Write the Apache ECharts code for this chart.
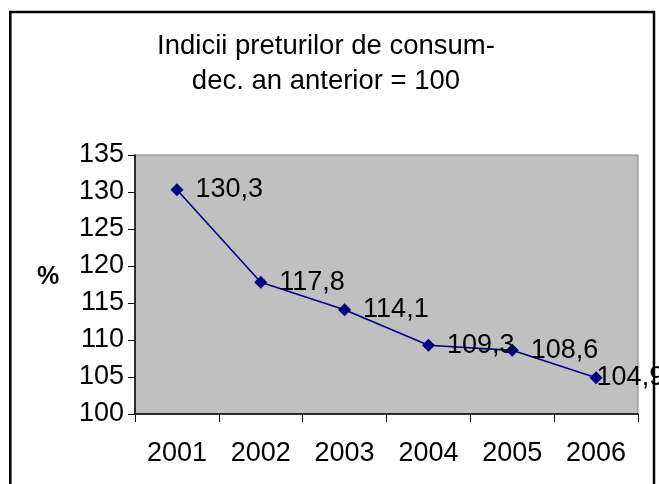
<!DOCTYPE html>
<html>
<head>
<meta charset="utf-8">
<script src="https://cdn.jsdelivr.net/npm/echarts@6/dist/echarts.min.js"></script>
<style>
  html, body { margin: 0; padding: 0; background: #fff; }
  #chart { width: 659px; height: 484px; }
</style>
</head>
<body>
<div id="chart"></div>
<script>
// date
const years = ['2001', '2002', '2003', '2004', '2005', '2006'];
const indici = [130.3, 117.8, 114.1, 109.3, 108.6, 104.9];
const titleLines = ['Indicii preturilor de consum-', 'dec. an anterior = 100'];

const FONT = '"Liberation Sans", Arial, sans-serif';
const fmt = v => String(v).replace('.', ',');

const chart = echarts.init(document.getElementById('chart'), null, { renderer: 'canvas' });

// ultima eticheta e impinsa spre stanga, ca in original
const seriesData = indici.map((v, i) => {
  const item = { value: v };
  if (i === indici.length - 1) item.label = { position: 'right', distance: -6 };
  return item;
});

const option = {
  backgroundColor: '#ffffff',
  animation: false,
  textStyle: { fontFamily: FONT },
  title: {
    text: titleLines.join('\n'),
    left: 321,
    top: 24,
    textAlign: 'center',
    textStyle: { fontFamily: FONT, fontSize: 27.5, fontWeight: 'normal', color: '#000', lineHeight: 35 }
  },
  grid: {
    left: 135, right: 21, top: 155, bottom: 70,
    show: true,
    backgroundColor: '#c0c0c0',
    borderColor: '#808080',
    borderWidth: 1
  },
  xAxis: {
    type: 'category',
    data: years,
    boundaryGap: true,
    axisLine: { lineStyle: { color: '#000', width: 1.5 } },
    axisTick: { show: true, length: 8, lineStyle: { color: '#000', width: 1 } },
    axisLabel: { color: '#000', fontSize: 27, fontFamily: FONT, margin: 26 },
    splitLine: { show: false }
  },
  yAxis: {
    type: 'value',
    min: 100, max: 135, interval: 5,
    axisLine: { show: true, lineStyle: { color: '#000', width: 1.5 } },
    axisTick: { show: true, length: 7, lineStyle: { color: '#000', width: 1 } },
    axisLabel: { color: '#000', fontSize: 27, fontFamily: FONT, margin: 11 },
    splitLine: { show: false }
  },
  graphic: [
    {
      type: 'rect',
      shape: { x: 10.3, y: 12, width: 643.7, height: 520 },
      style: { fill: 'none', stroke: '#000', lineWidth: 2.5 },
      silent: true, z: 100
    },
    {
      type: 'text',
      x: 48, y: 277,
      style: {
        text: '%', fontFamily: FONT, fontSize: 25, fontWeight: 'bold', fill: '#000',
        align: 'center', verticalAlign: 'middle'
      }
    }
  ],
  series: [{
    type: 'line',
    data: seriesData,
    symbol: 'diamond',
    symbolSize: 13,
    itemStyle: { color: '#000080' },
    lineStyle: { color: '#000080', width: 1.6 },
    label: {
      show: true,
      position: 'right',
      distance: 12,
      color: '#000',
      fontSize: 27,
      fontFamily: FONT,
      formatter: p => fmt(p.value)
    }
  }]
};

chart.setOption(option);
</script>
</body>
</html>
